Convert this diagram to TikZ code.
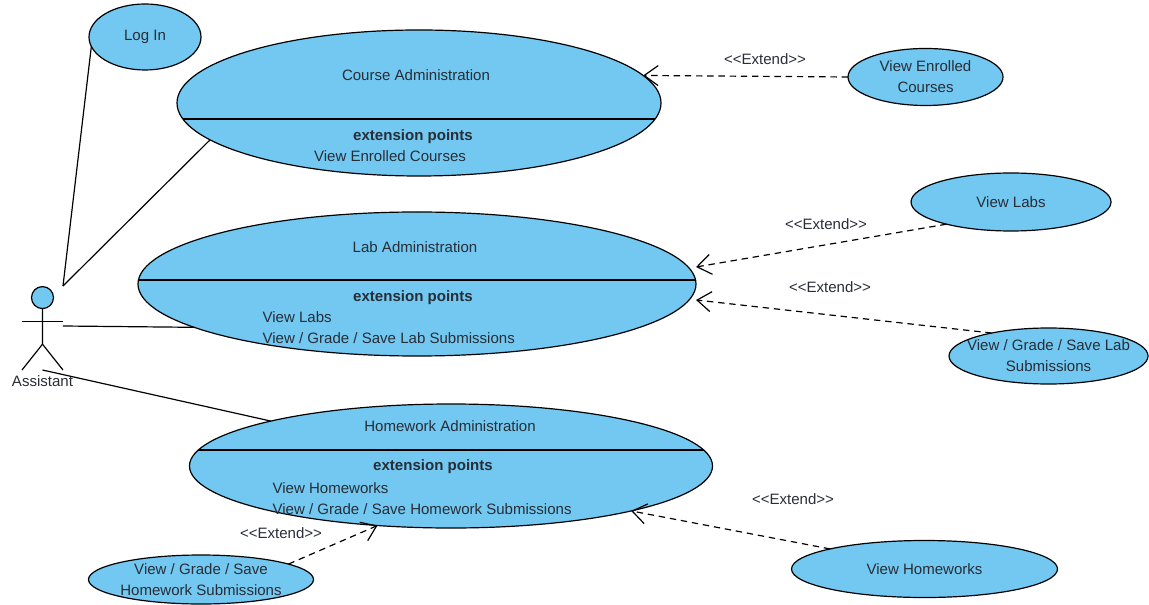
\documentclass[tikz,border=0pt]{standalone}
\usepackage{fontspec}
\setmainfont{Liberation Sans}
\usetikzlibrary{arrows.meta}
\usetikzlibrary{positioning, shapes.geometric}
\definecolor{casefill}{RGB}{114,200,240}
\definecolor{inktext}{RGB}{40,45,55}
\newcommand{\extendtag}{<{}<Extend>{}>}

\begin{document}
\begin{tikzpicture}[
  x=.25mm, y=.25mm, line width=.85pt,
  usecase/.style={ellipse,draw,fill=casefill,inner sep=0pt,outer sep=0pt},
  compartment/.style={path picture={\draw ([yshift=#1]path picture bounding box.west)
    -- ([yshift=#1]path picture bounding box.east);}},
  plaintxt/.style={inner sep=0pt,font=\fontsize{10.7pt}{15pt}\selectfont,text=inktext,align=center},
  boldtxt/.style={plaintxt,font=\fontsize{10.7pt}{15pt}\selectfont\bfseries},
  extendline/.style={dashed,dash pattern=on 1.6mm off 1.2mm,
    -{Straight Barb[length=3.5mm,width=5mm]}},
  actorbox/.style={minimum width=10.25mm,minimum height=21mm,inner sep=0pt,outer sep=0pt}
]
\useasboundingbox (0,0) rectangle (1149,604);

% --- Main use cases ---
\node[usecase,compartment=-4mm,minimum width=121mm,minimum height=36.5mm] (course) at (419,501) {};
\node[usecase,compartment=1mm,minimum width=139.5mm,minimum height=36mm,below=9mm of course,xshift=-.5mm] (lab) {};
\node[usecase,compartment=4mm,minimum width=130.75mm,minimum height=31mm,below=12mm of lab,xshift=8.5mm] (homework) {};

% --- Small use cases ---
\node[usecase,minimum width=28mm,minimum height=16.5mm,left=-6mm of course,yshift=16.5mm] (login) {};
\node[usecase,minimum width=38.75mm,minimum height=14.25mm,right=46.75mm of course,yshift=6.5mm] (enrolled) {};
\node[usecase,minimum width=50mm,minimum height=14.5mm,right=53.75mm of lab,yshift=20.5mm] (labs) {};
\node[usecase,minimum width=49.75mm,minimum height=14mm,right=63.25mm of lab,yshift=-18mm] (labsub) {};
\node[usecase,minimum width=66.5mm,minimum height=14.25mm,right=19.75mm of homework,yshift=-25.75mm] (homeworks) {};
\node[usecase,minimum width=56.25mm,minimum height=12.25mm,below=6.75mm of homework,xshift=-62.5mm] (hwsub) {};

\node[plaintxt] (logintext) at (login) {Log In};
\node[plaintxt] (enrolledtext) at (enrolled) {View Enrolled\\Courses};
\node[plaintxt] (labstext) at (labs) {View Labs};
\node[plaintxt] (labsubtext) at (labsub) {View / Grade / Save Lab\\Submissions};
\node[plaintxt] (homeworkstext) at (homeworks) {View Homeworks};
\node[plaintxt] (hwsubtext) at (hwsub) {View / Grade / Save\\Homework Submissions};

% --- Compartments ---
\node[plaintxt] (coursetitle) at (416,529) {Course Administration};
\node[boldtxt] (courseext) at (413,467) {extension points};
\node[plaintxt] (coursepoint) at (390,448) {View Enrolled Courses};

\node[plaintxt] (labtitle) at (415,357) {Lab Administration};
\node[boldtxt] (labext) at (413,306) {extension points};
\node[plaintxt,anchor=west] (labpointa) at (262,287) {View Labs};
\node[plaintxt,anchor=west] (labpointb) at (262,266) {View / Grade / Save Lab Submissions};

\node[plaintxt] (hwtitle) at (450,178) {Homework Administration};
\node[boldtxt] (hwext) at (433,137) {extension points};
\node[plaintxt,anchor=west] (hwpointa) at (272,116) {View Homeworks};
\node[plaintxt,anchor=west] (hwpointb) at (272,95) {View / Grade / Save Homework Submissions};

% --- Actor ---
\node[actorbox,left=18.75mm of lab,yshift=-11mm] (assistant) {};
\node[circle,draw,fill=casefill,minimum size=5.5mm,inner sep=0pt,below=0mm of assistant.north] (actorhead) {};
\draw (actorhead.south) -- ++(0,-35) coordinate (hip) -- (assistant.south west);
\draw (hip) -- (assistant.south east);
\draw ([yshift=-3mm]actorhead.south) ++(-20,0) -- ++(41,0);
\node[plaintxt,below=1.2mm of assistant] (assistantname) {Assistant};

% --- Associations ---
\draw (assistant.north east) -- (login.190.9);
\draw (assistant.north east) -- (course.190.2);
\draw ([yshift=.5mm]assistant.east) -- (lab.191.5);
\draw (assistant.south) -- (homework.166);

% --- Extends ---
\draw[extendline] (enrolled.west) -- (course.7.8);
\draw[extendline] (labs.199.8) -- ([yshift=4.25mm]lab.east);
\draw[extendline] (labsub.158.4) -- ([yshift=-4mm]lab.east);
\draw[extendline] (homeworks.168) -- (homework.-14);
\draw[extendline] (hwsub.10) -- (homework.219);

\node[plaintxt] (extenda) at (765,545) {\extendtag};
\node[plaintxt] (extendb) at (826,380) {\extendtag};
\node[plaintxt] (extendc) at (830,317) {\extendtag};
\node[plaintxt] (extendd) at (793,105) {\extendtag};
\node[plaintxt] (extende) at (281,71) {\extendtag};

\end{tikzpicture}
\end{document}
